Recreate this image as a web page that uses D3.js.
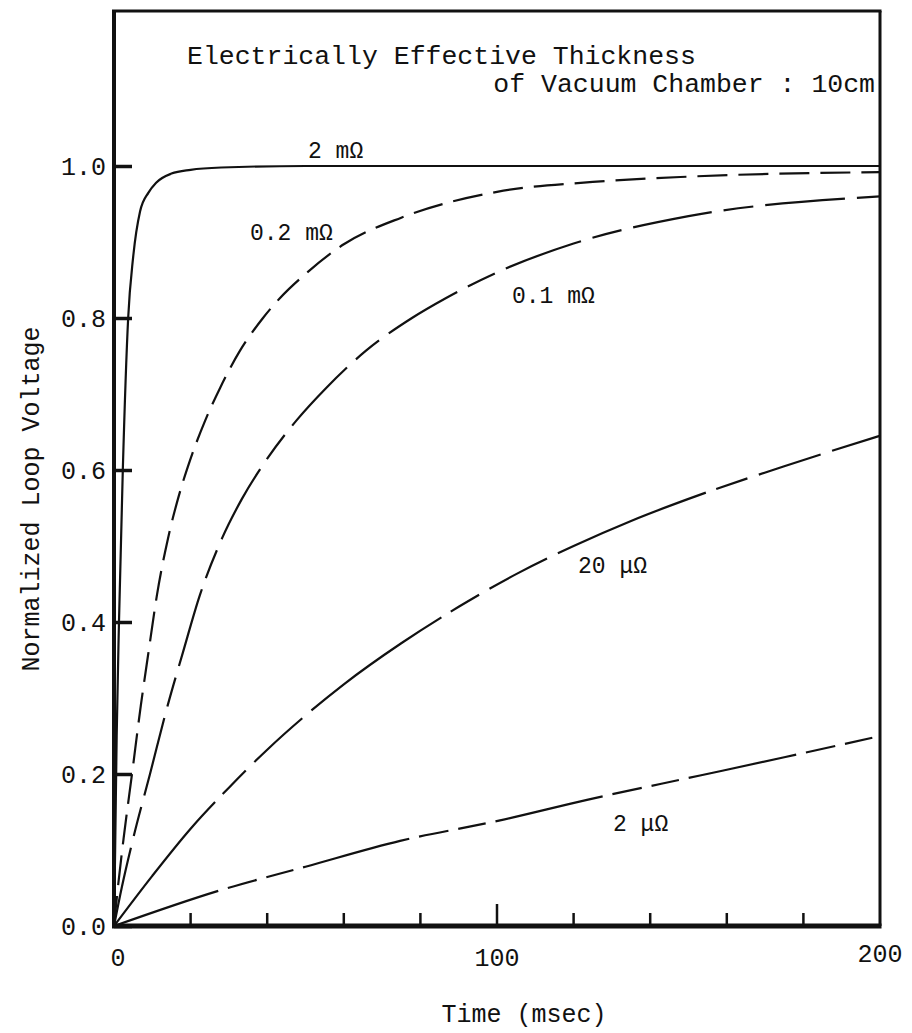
<!DOCTYPE html>
<html>
<head>
<meta charset="utf-8">
<script src="https://cdn.jsdelivr.net/npm/d3@7"></script>
<style>
  body { margin: 0; background: #fff; }
  text { font-family: "Liberation Mono", "DejaVu Sans Mono", monospace; fill: #111; }
</style>
</head>
<body>
<div id="chart"></div>
<script>
// values (time in msec, normalized loop voltage)
const t_2mOhm   = [0, 0.3, 0.7, 1.3, 2.3, 3.7, 5, 6.8, 9, 11, 15, 20, 28, 50, 100, 150, 200];
const v_2mOhm   = [0, 0.1, 0.25, 0.4, 0.6, 0.8, 0.88, 0.94, 0.965, 0.978, 0.99, 0.995, 0.998, 1.0, 1.0, 1.0, 1.0];

const t_02mOhm  = [0, 1, 2.5, 4.7, 7, 9, 11.2, 14.1, 16.7, 19.8, 23.8, 27.7, 32.9, 38.9, 43.3, 50, 60, 75, 100, 125, 150, 200];
const v_02mOhm  = [0, 0.05, 0.115, 0.2, 0.29, 0.36, 0.435, 0.51, 0.562, 0.612, 0.665, 0.708, 0.757, 0.8, 0.826, 0.858, 0.897, 0.932, 0.966, 0.979, 0.986, 0.992];

const t_01mOhm  = [0, 2, 5, 9.4, 14, 18, 22.4, 28.2, 33.4, 39.6, 47.6, 55.4, 65.8, 77.8, 86.6, 100, 120, 150, 200];
const v_01mOhm  = [0, 0.05, 0.115, 0.2, 0.29, 0.36, 0.435, 0.51, 0.562, 0.612, 0.665, 0.708, 0.757, 0.8, 0.826, 0.86, 0.898, 0.934, 0.96];

const t_20uOhm  = [0, 10, 20, 30, 40, 50, 60, 75, 90, 105, 120, 135, 150, 175, 200];
const v_20uOhm  = [0, 0.066, 0.128, 0.182, 0.232, 0.277, 0.318, 0.372, 0.42, 0.463, 0.5, 0.533, 0.562, 0.605, 0.645];

const t_2uOhm   = [0, 27.7, 50, 74.7, 100.8, 123.5, 153, 175, 200];
const v_2uOhm   = [0, 0.047, 0.078, 0.112, 0.139, 0.166, 0.198, 0.222, 0.25];

const seriesNames = ["2 mΩ", "0.2 mΩ", "0.1 mΩ", "20 μΩ", "2 μΩ"];
const yTickValues = [0, 0.2, 0.4, 0.6, 0.8, 1.0];
const xLabelValues = [0, 100, 200];
const xMinorTicks = [20, 40, 60, 80, 100, 120, 140, 160, 180];

document.addEventListener("DOMContentLoaded", function () {
    const width = 912,
          height = 1033;

    const x = d3.scaleLinear().domain([0, 200]).range([114, 880]);
    const y = d3.scaleLinear().domain([0, 1]).range([926, 166]);
    const frameTop = 11;

    const svg = d3.select("#chart").append("svg")
        .attr("width", width)
        .attr("height", height)
        .attr("viewBox", `0 0 ${width} ${height}`);

    svg.append("rect").attr("width", width).attr("height", height).attr("fill", "#fff");

    const zip = (ts, vs) => ts.map((t, i) => [t, vs[i]]);
    const series = [
        { name: seriesNames[0], pts: zip(t_2mOhm, v_2mOhm),   dash: null,                 lx: 308, ly: 158 },
        { name: seriesNames[1], pts: zip(t_02mOhm, v_02mOhm), dash: "30,11",              lx: 250, ly: 240 },
        { name: seriesNames[2], pts: zip(t_01mOhm, v_01mOhm), dash: "80,12,30,12",        lx: 512, ly: 303 },
        { name: seriesNames[3], pts: zip(t_20uOhm, v_20uOhm), dash: "160,11,33,12,65,12", lx: 578, ly: 573 },
        { name: seriesNames[4], pts: zip(t_2uOhm, v_2uOhm),   dash: "110,10,30,10,28,10", lx: 613, ly: 831 }
    ];

    const line = d3.line()
        .x(d => x(d[0]))
        .y(d => y(d[1]))
        .curve(d3.curveMonotoneX);

    // curves
    svg.append("g")
        .selectAll("path")
        .data(series)
        .join("path")
        .attr("fill", "none")
        .attr("stroke", "#111")
        .attr("stroke-width", 2.2)
        .attr("stroke-dasharray", d => d.dash)
        .attr("d", d => line(d.pts));

    // curve labels
    svg.append("g")
        .selectAll("text")
        .data(series)
        .join("text")
        .attr("x", d => d.lx)
        .attr("y", d => d.ly)
        .style("font-size", "23px")
        .text(d => d.name);

    // frame
    const frame = svg.append("g").attr("stroke", "#111").attr("fill", "none");
    frame.append("line").attr("x1", x(0)).attr("x2", x(0)).attr("y1", frameTop).attr("y2", y(0)).attr("stroke-width", 4);
    frame.append("line").attr("x1", x(0) - 2).attr("x2", x(200) + 1.5).attr("y1", y(0)).attr("y2", y(0)).attr("stroke-width", 5);
    frame.append("line").attr("x1", x(0) - 2).attr("x2", x(200) + 1.5).attr("y1", frameTop).attr("y2", frameTop).attr("stroke-width", 3);
    frame.append("line").attr("x1", x(200)).attr("x2", x(200)).attr("y1", frameTop).attr("y2", y(0)).attr("stroke-width", 3);

    // y axis: inward ticks, typewriter labels
    const yAxis = d3.axisRight(y)
        .tickValues(yTickValues)
        .tickSize(18)
        .tickFormat("");
    svg.append("g")
        .attr("transform", `translate(${x(0)},0)`)
        .call(yAxis)
        .call(g => g.select(".domain").remove())
        .call(g => g.selectAll(".tick line").attr("stroke", "#111").attr("stroke-width", 3.5));

    svg.append("g")
        .selectAll("text")
        .data(yTickValues)
        .join("text")
        .attr("x", 106)
        .attr("y", d => y(d) + 9)
        .attr("text-anchor", "end")
        .style("font-size", "25px")
        .text(d => d3.format(".1f")(d));

    // x axis: small inward ticks, taller one at 100
    svg.append("g")
        .selectAll("line")
        .data(xMinorTicks)
        .join("line")
        .attr("x1", d => x(d))
        .attr("x2", d => x(d))
        .attr("y1", y(0))
        .attr("y2", d => y(0) - (d === 100 ? 22 : 13))
        .attr("stroke", "#111")
        .attr("stroke-width", 2.5);

    svg.append("g")
        .selectAll("text")
        .data(xLabelValues)
        .join("text")
        .attr("x", d => x(d) + (d === 0 ? 4 : 0))
        .attr("y", d => d === 200 ? 962 : 966)
        .attr("text-anchor", "middle")
        .style("font-size", "25px")
        .text(d => d);

    // axis titles
    svg.append("text")
        .attr("x", 524)
        .attr("y", 1022)
        .attr("text-anchor", "middle")
        .style("font-size", "25px")
        .text("Time (msec)");

    svg.append("text")
        .attr("transform", "translate(39,499) rotate(-90)")
        .attr("text-anchor", "middle")
        .style("font-size", "25px")
        .text("Normalized Loop Voltage");

    // annotation
    svg.append("text")
        .attr("x", 187)
        .attr("y", 64)
        .style("font-size", "26.5px")
        .text("Electrically Effective Thickness");
    svg.append("text")
        .attr("x", 875)
        .attr("y", 92)
        .attr("text-anchor", "end")
        .style("font-size", "26.5px")
        .text("of Vacuum Chamber : 10cm");
});
</script>
</body>
</html>
